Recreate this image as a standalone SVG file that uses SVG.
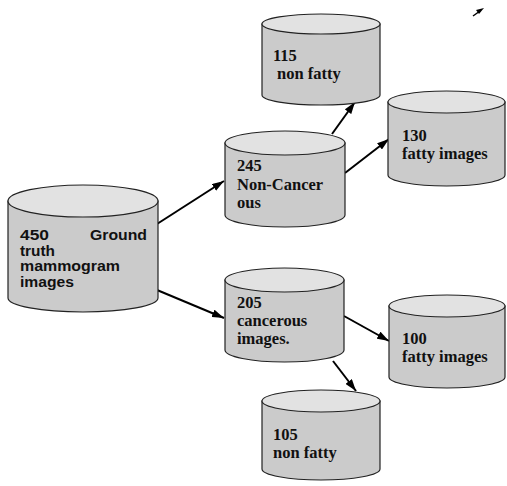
<svg xmlns="http://www.w3.org/2000/svg" width="507" height="486" viewBox="0 0 507 486">
<defs>
<marker id="ah" viewBox="0 0 12 8" refX="12" refY="4" markerWidth="12" markerHeight="8" markerUnits="userSpaceOnUse" orient="auto">
<path d="M0,0 L12,4 L0,8 Z" fill="#000"/>
</marker>
<style>
.body{fill:#cbcbcb;stroke:#222;stroke-width:1.2}
.top{fill:#e2e2e2;stroke:#222;stroke-width:1.2}
.sans{font-family:"Liberation Sans",Arial,sans-serif;font-weight:bold;font-size:13.8px;fill:#111}
.serif{font-family:"Liberation Serif","Times New Roman",serif;font-weight:bold;font-size:16.5px;fill:#111}
.conn{stroke:#000;stroke-width:2;fill:none}
</style>
</defs>
<rect width="507" height="486" fill="#fff"/>
<g id="connectors">
<line class="conn" x1="157" y1="224" x2="224" y2="181" marker-end="url(#ah)"/>
<line class="conn" x1="157" y1="290" x2="224" y2="318" marker-end="url(#ah)"/>
<line class="conn" x1="332" y1="134" x2="355" y2="102" marker-end="url(#ah)"/>
<line class="conn" x1="345" y1="173" x2="389" y2="139" marker-end="url(#ah)"/>
<line class="conn" x1="344" y1="316" x2="389" y2="341" marker-end="url(#ah)"/>
<line class="conn" x1="333" y1="361" x2="356" y2="391" marker-end="url(#ah)"/>
<line x1="473" y1="16" x2="480" y2="11" stroke="#000" stroke-width="1.5"/>
<path d="M476,10 L484,8 L479,14 Z" fill="#000"/>
</g>
<g id="n450">
<path class="body" d="M8,201 L8,298 A75,14 0 0 0 158,298 L158,201 Z"/>
<ellipse class="top" cx="83" cy="201" rx="75" ry="16"/>
<text class="sans" x="20" y="240" textLength="29" lengthAdjust="spacingAndGlyphs">450</text>
<text class="sans" x="90" y="240" textLength="57" lengthAdjust="spacingAndGlyphs">Ground</text>
<text class="sans" x="20" y="255.5" textLength="35" lengthAdjust="spacingAndGlyphs">truth</text>
<text class="sans" x="20" y="271" textLength="100" lengthAdjust="spacingAndGlyphs">mammogram</text>
<text class="sans" x="20" y="286.5" textLength="54" lengthAdjust="spacingAndGlyphs">images</text>
</g>
<g id="n245">
<path class="body" d="M225,143 L225,215 A60,12 0 0 0 345,215 L345,143 Z"/>
<ellipse class="top" cx="285" cy="143" rx="60" ry="12"/>
<text class="serif" x="237" y="171">245</text>
<text class="serif" x="237" y="190">Non-Cancer</text>
<text class="serif" x="237" y="208">ous</text>
</g>
<g id="n115">
<path class="body" d="M262,24 L262,95 A59,10 0 0 0 380,95 L380,24 Z"/>
<ellipse class="top" cx="321" cy="24" rx="59" ry="10"/>
<text class="serif" x="273" y="61">115</text>
<text class="serif" x="277" y="79">non fatty</text>
</g>
<g id="n130">
<path class="body" d="M388,102 L388,175 A58.5,11 0 0 0 505,175 L505,102 Z"/>
<ellipse class="top" cx="446.5" cy="102" rx="58.5" ry="11"/>
<text class="serif" x="402" y="141">130</text>
<text class="serif" x="402" y="159">fatty images</text>
</g>
<g id="n205">
<path class="body" d="M225,280 L225,350 A59.5,12 0 0 0 344,350 L344,280 Z"/>
<ellipse class="top" cx="284.5" cy="280" rx="59.5" ry="12"/>
<text class="serif" x="237" y="308">205</text>
<text class="serif" x="237" y="326">cancerous</text>
<text class="serif" x="237" y="344">images.</text>
</g>
<g id="n100">
<path class="body" d="M389,306 L389,377 A58,11 0 0 0 505,377 L505,306 Z"/>
<ellipse class="top" cx="447" cy="306" rx="58" ry="11"/>
<text class="serif" x="402" y="344">100</text>
<text class="serif" x="402" y="362">fatty images</text>
</g>
<g id="n105">
<path class="body" d="M262,401 L262,469 A59,11 0 0 0 380,469 L380,401 Z"/>
<ellipse class="top" cx="321" cy="401" rx="59" ry="11"/>
<text class="serif" x="273" y="440">105</text>
<text class="serif" x="273" y="458">non fatty</text>
</g>
</svg>
